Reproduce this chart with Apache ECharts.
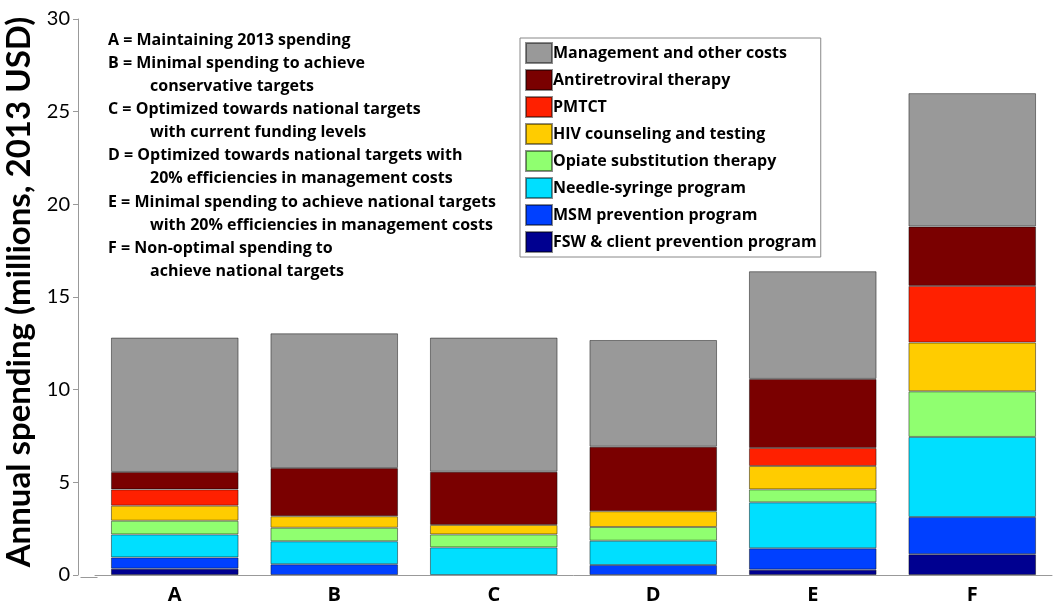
<!DOCTYPE html>
<html><head><meta charset="utf-8">
<script src="https://cdn.jsdelivr.net/npm/echarts@6/dist/echarts.min.js"></script>
<style>html,body{margin:0;padding:0;background:#fff}#c{width:1056px;height:601px}</style>
</head><body><div id="c"></div>
<script>
const categories = ['A','B','C','D','E','F'];
const fsw   = [0.34, null, null, null, 0.29, 1.12];
const msm   = [0.61, 0.58, null, 0.54, 1.15, 2.01];
const nsp   = [1.24, 1.24, 1.49, 1.31, 2.48, 4.32];
const ost   = [0.74, 0.73, 0.70, 0.74, 0.70, 2.46];
const hct   = [0.81, 0.62, 0.51, 0.85, 1.26, 2.63];
const pmtct = [0.88, null, null, null, 0.97, 3.06];
const art   = [0.94, 2.60, 2.87, 3.48, 3.73, 3.20];
const mgmt  = [7.25, 7.27, 7.24, 5.76, 5.81, 7.20];
const seriesNames = ['FSW & client prevention program','MSM prevention program','Needle-syringe program','Opiate substitution therapy','HIV counseling and testing','PMTCT','Antiretroviral therapy','Management and other costs'];
const seriesColors = ['#000090','#0040ff','#00dfff','#90ff70','#ffcc00','#ff2000','#7a0000','#999999'];
const yTicks = [0,5,10,15,20,25,30];
const notes = [
  ['A = Maintaining 2013 spending', 0],
  ['B = Minimal spending to achieve', 0],
  ['conservative targets', 1],
  ['C = Optimized towards national targets', 0],
  ['with current funding levels', 1],
  ['D = Optimized towards national targets with', 0],
  ['20% efficiencies in management costs', 1],
  ['E = Minimal spending to achieve national targets', 0],
  ['with 20% efficiencies in management costs', 1],
  ['F = Non-optimal spending to', 0],
  ['achieve national targets', 1]
];
const yTitle = 'Annual spending (millions, 2013 USD)';

const allData = [fsw, msm, nsp, ost, hct, pmtct, art, mgmt];
const FONT = '"Open Sans", Lato, sans-serif';
const TFONT = 'Lato, "Open Sans", sans-serif';
const chart = echarts.init(document.getElementById('c'), null, {renderer:'canvas'});
const series = allData.map((d, i) => ({
  name: seriesNames[i], type: 'bar', stack: 'total', data: d,
  barCategoryGap: '20%',
  itemStyle: {color: seriesColors[i], borderColor: 'rgba(0,0,0,0.45)', borderWidth: 1},
  emphasis: {disabled: true}
}));
const graphics = notes.map((n, i) => ({
  type: 'text', left: n[1] ? 150 : 108, top: 32 + i * 23.15,
  style: {text: n[0], font: 'bold 16px ' + FONT, fill: '#000'}
}));
graphics.push({type: 'line', left: 78, top: 575, shape: {x1: 0, y1: 0, x2: 17, y2: 0}, style: {stroke: '#999', lineWidth: 1}});
chart.setOption({
  animation: false,
  grid: {left: 95, right: 4, top: 19, bottom: 26, containLabel: false, outerBoundsMode: 'none'},
  xAxis: {
    type: 'category', data: categories,
    axisLine: {lineStyle: {color: '#999', width: 1}},
    axisTick: {alignWithLabel: true, length: 5, lineStyle: {color: '#999'}},
    axisLabel: {color: '#000', fontSize: 20, fontWeight: 'bold', fontFamily: FONT, margin: 10}
  },
  yAxis: {
    type: 'value', min: yTicks[0], max: yTicks[yTicks.length-1], interval: 5, offset: 17,
    name: yTitle, nameLocation: 'middle', nameGap: 41,
    nameTextStyle: {fontSize: 33, color: '#000', fontFamily: TFONT, fontWeight: 'bold', padding: [0, 0, 0, 10]},
    axisLine: {show: true, lineStyle: {color: '#999'}},
    axisTick: {show: true, length: 5, lineStyle: {color: '#999'}},
    splitLine: {show: false},
    axisLabel: {color: '#000', fontSize: 20, fontFamily: TFONT, margin: 8}
  },
  legend: {
    orient: 'vertical', left: 520, top: 38,
    data: seriesNames.slice().reverse(),
    itemWidth: 26, itemHeight: 20, itemGap: 5, icon: 'rect',
    borderColor: '#888', borderWidth: 1, padding: [4, 4, 4, 5],
    textStyle: {fontSize: 16, fontWeight: 'bold', color: '#000', fontFamily: FONT, lineHeight: 20, padding: [0,0,0,-4]}
  },
  graphic: graphics,
  series: series
});
</script></body></html>
